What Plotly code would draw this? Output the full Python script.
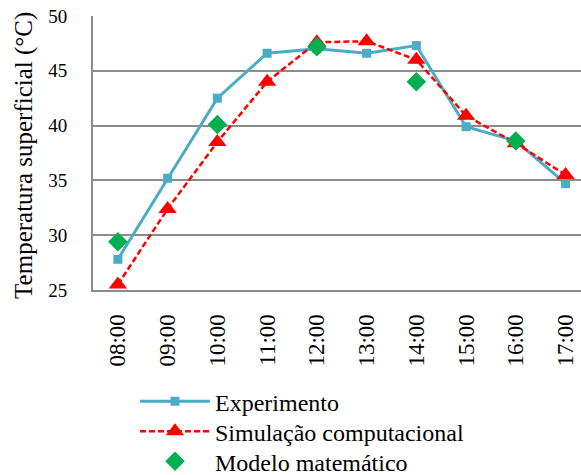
import plotly.graph_objects as go

horas = ["08:00", "09:00", "10:00", "11:00", "12:00", "13:00", "14:00", "15:00", "16:00", "17:00"]
experimento = [27.8, 35.2, 42.5, 46.6, 47.0, 46.6, 47.3, 39.9, 38.6, 34.7]
simulacao = [25.5, 32.4, 38.5, 44.0, 47.6, 47.7, 46.0, 40.9, 38.4, 35.5]
horas_modelo = ["08:00", "10:00", "12:00", "14:00", "16:00"]
modelo = [29.4, 40.1, 47.2, 44.0, 38.6]

FONT = "Liberation Serif"
W, H = 581, 475

fig = go.Figure()
fig.add_trace(go.Scatter(
    x=horas, y=experimento, name="Experimento", mode="lines+markers",
    line=dict(color="#4BACC6", width=3),
    marker=dict(symbol="square", size=9, color="#4BACC6"),
    legend="legend",
))
fig.add_trace(go.Scatter(
    x=horas, y=simulacao, name="Simulação computacional", mode="lines+markers",
    line=dict(color="#FF0000", width=2.5, dash="6px,3px"),
    marker=dict(symbol="triangle-up", size=16, color="#FF0000"),
    legend="legend2",
))
fig.add_trace(go.Scatter(
    x=horas_modelo, y=modelo, name="Modelo matemático", mode="markers",
    marker=dict(symbol="diamond", size=15, color="#00B050"),
    legend="legend3",
))

def leg(yc):
    return dict(
        xref="container", yref="container",
        x=135 / W, y=1 - yc / H, xanchor="left", yanchor="middle",
        font=dict(family=FONT, size=24, color="black"),
        itemwidth=70, bgcolor="rgba(0,0,0,0)",
    )

fig.update_layout(
    width=W, height=H,
    margin=dict(l=93, r=0, t=16, b=185, autoexpand=False),
    plot_bgcolor="white", paper_bgcolor="white",
    font=dict(family=FONT, size=19, color="black"),
    showlegend=True,
    legend=leg(401.7),
    legend2=leg(431.7),
    legend3=leg(461.7),
    annotations=[dict(
        text="Temperatura superficial (°C)", textangle=-90,
        xref="paper", yref="paper", x=-0.141, y=0.49,
        xanchor="center", yanchor="middle", showarrow=False,
        font=dict(family=FONT, size=25, color="black"),
    )],
)
fig.update_xaxes(
    type="category", categoryorder="array", categoryarray=horas,
    range=[-0.5, 9.31],
    showgrid=False, showline=True, linecolor="#8c8c8c", linewidth=2,
    ticks="", tickangle=-90, tickfont=dict(family=FONT, size=23),
    ticklabelstandoff=13,
)
fig.update_yaxes(
    range=[25, 50], dtick=5, tick0=25,
    showgrid=True, gridcolor="#8c8c8c", gridwidth=2,
    showline=True, linecolor="#8c8c8c", linewidth=2,
    ticks="", tickfont=dict(family=FONT, size=19),
    ticklabelstandoff=20,
    zeroline=False,
)

fig.write_html(
    "out.html",
    config={"displayModeBar": False},
    post_script="document.body.style.margin='0';document.body.style.padding='0';",
)
